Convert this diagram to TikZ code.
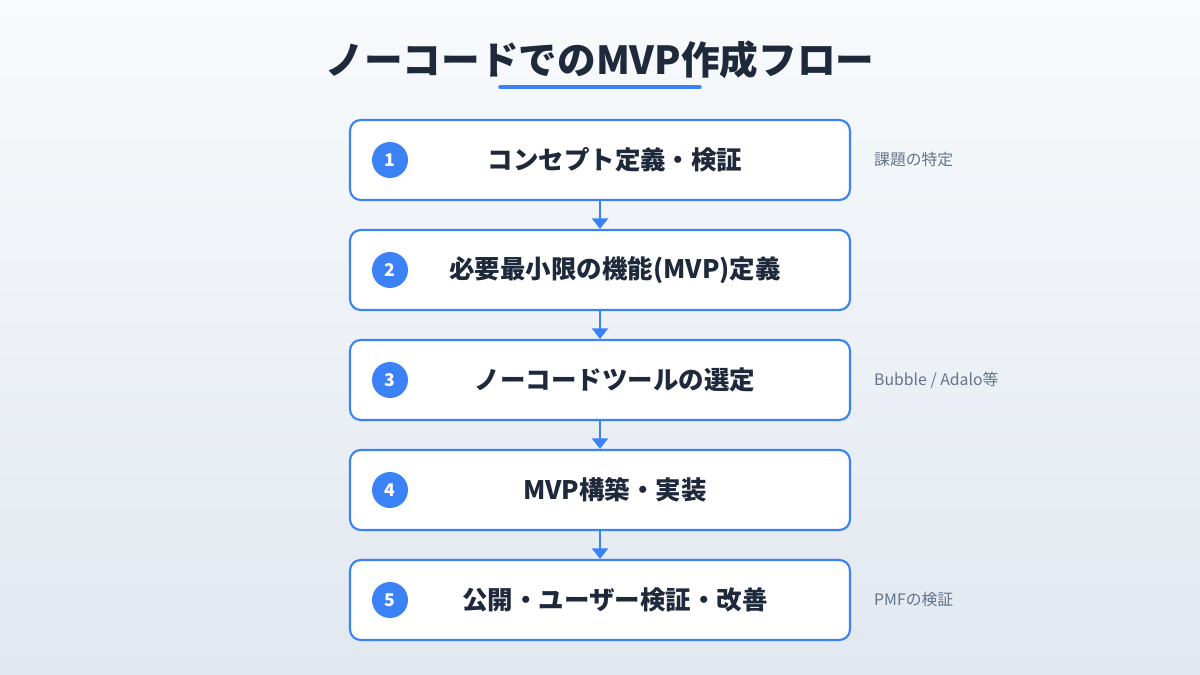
\documentclass[tikz,border=0pt]{standalone}
\usepackage{fontspec}
\setmainfont{Noto Sans CJK JP}
\newfontfamily\cjk{Noto Sans CJK JP}
\usetikzlibrary{positioning,arrows.meta}
\definecolor{navy}{HTML}{1E293B}
\definecolor{stepblue}{HTML}{3B82F6}
\definecolor{notegray}{HTML}{64748B}
\definecolor{bgtop}{HTML}{F8FAFC}
\definecolor{bgbot}{HTML}{E2E8F0}
\tikzset{
  stepbox/.style={draw=stepblue, line width=1.2pt, fill=white, rounded corners=6pt,
    minimum width=10cm, minimum height=1.6cm},
  num/.style={circle, fill=stepblue, text=white, minimum size=0.72cm, inner sep=0pt,
    font=\cjk\bfseries\fontsize{10}{12}\selectfont},
  steplabel/.style={text=navy, font=\cjk\bfseries\fontsize{14.5}{17}\selectfont},
  note/.style={text=notegray, anchor=west, font=\cjk\fontsize{9}{11}\selectfont},
  flow/.style={-{Triangle[length=6pt,width=9pt]}, draw=stepblue, line width=1.6pt}
}
\begin{document}
\begin{tikzpicture}[x=0.02cm,y=-0.02cm]
\shade[top color=bgtop, bottom color=bgbot] (0,0) rectangle (1200,675);
\useasboundingbox (0,0) rectangle (1200,675);
\node[text=navy, font=\cjk\bfseries\fontsize{22}{26}\selectfont] (title) at (600,60) {ノーコードでのMVP作成フロー};
\draw[stepblue, line width=2pt, line cap=round] (500,87) -- (700,87);
% steps
\foreach \i/\y/\txt in {1/160/コンセプト定義・検証, 2/270/必要最小限の機能(MVP)定義,
    3/380/ノーコードツールの選定, 4/490/MVP構築・実装, 5/600/公開・ユーザー検証・改善}{
  \node[stepbox] (s\i) at (600,\y) {};
  \node[num] (n\i) at (390,\y) {\i};
  \node[steplabel] (t\i) at (615,\y) {\txt};
}
\foreach \a/\b in {1/2,2/3,3/4,4/5}
  \draw[flow] (s\a.south) -- (s\b.north);
\node[note] (note1) at (868,160) {課題の特定};
\node[note] (note3) at (868,380) {Bubble / Adalo等};
\node[note] (note5) at (868,600) {PMFの検証};
\end{tikzpicture}
\end{document}
